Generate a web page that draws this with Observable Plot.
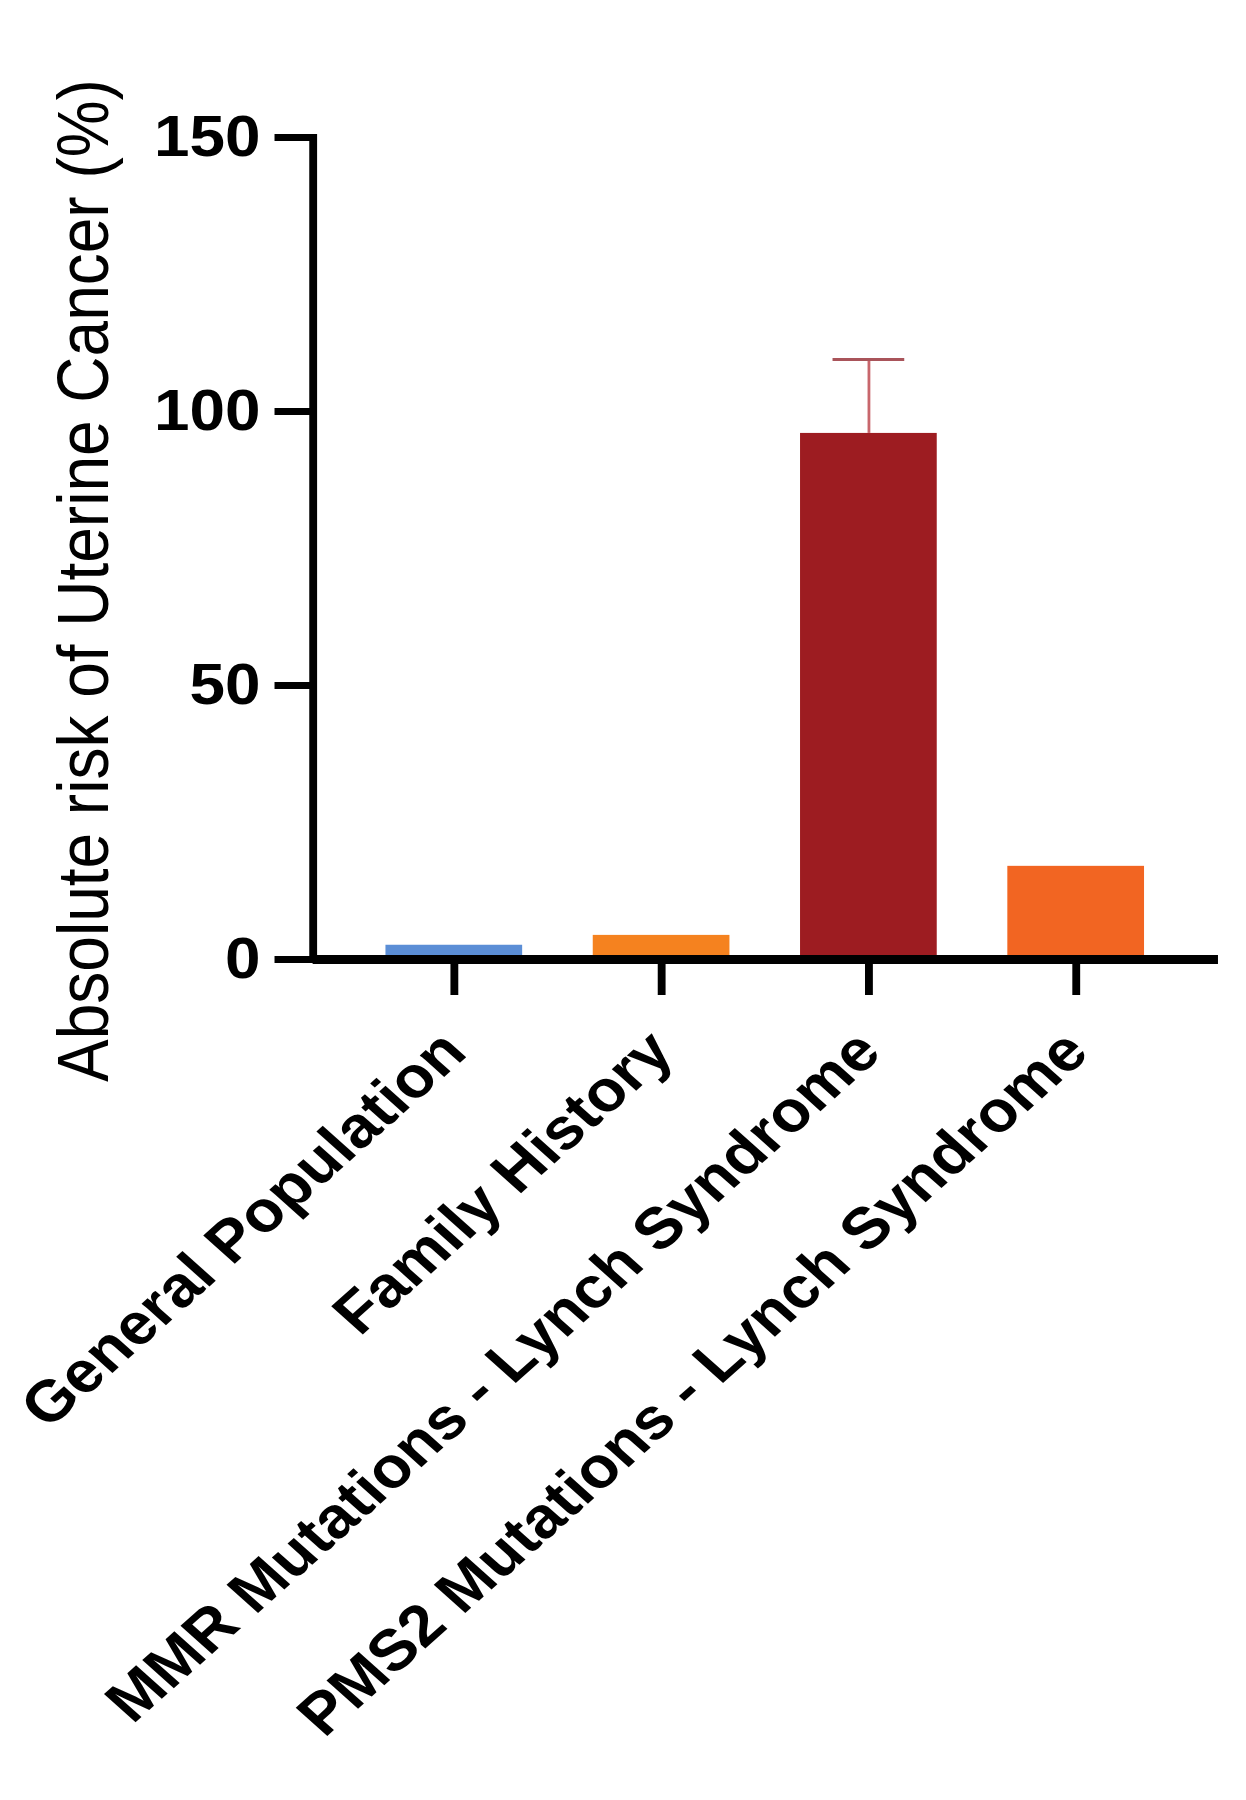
<!DOCTYPE html>
<html>
<head>
<meta charset="utf-8">
<script src="https://cdn.jsdelivr.net/npm/d3@7"></script>
<script src="https://cdn.jsdelivr.net/npm/@observablehq/plot@0.6"></script>
<style>
  body { margin: 0; background: #fff; }
  /* the figure is drawn slightly wide, like the original export */
  #chart svg { display: block; transform: scaleX(1.1205); transform-origin: 0 0; }
</style>
</head>
<body>
<div id="chart"></div>
<script>
// Absolute risk of uterine cancer by group (%)
const groups = [
  "General Population",
  "Family History",
  "MMR Mutations - Lynch Syndrome",
  "PMS2 Mutations - Lynch Syndrome"
];
const risk = [2.6, 4.4, 96, 17];
const errorUpper = [null, null, 109.5, null];
const barColors = ["#5b8ed6", "#f5821f", "#9d1c21", "#f26522"];
const yTicks = [0, 50, 100, 150];
const yTitle = "Absolute risk of Uterine Cancer (%)";

const rows = groups.map((g, i) => ({group: g, risk: risk[i], upper: errorUpper[i]}));
const errRows = rows.filter(d => d.upper != null);

const chart = Plot.plot({
  width: 1112,
  height: 1800,
  marginLeft: 279,
  marginRight: 25,
  marginTop: 137,
  marginBottom: 841,
  style: {fontFamily: "'Liberation Sans', Arial, sans-serif", color: "#000", background: "#fff"},
  x: {domain: groups, paddingInner: 0.34, paddingOuter: 0.35, align: 0.5, label: null},
  y: {domain: [0, 150], label: null},
  color: {domain: groups, range: barColors},
  marks: [
    Plot.barY(rows, {x: "group", y: "risk", fill: "group"}),
    // upper error bar on the MMR bar
    Plot.ruleX(errRows, {x: "group", y1: "risk", y2: "upper", stroke: "#c8666c", strokeWidth: 2.5}),
    Plot.tickY(errRows, {x: "group", y: "upper", stroke: "#a9545a", strokeWidth: 3, insetLeft: 29, insetRight: 29}),
    // axis lines
    Plot.ruleY([0], {strokeWidth: 9}),
    Plot.frame({anchor: "left", strokeWidth: 7}),
    Plot.axisY({ticks: yTicks, tickSize: 34, tickPadding: 13, strokeWidth: 7,
      fontSize: 57, fontWeight: "bold", label: null}),
    Plot.axisX({tickSize: 36, tickPadding: 46, strokeWidth: 7, tickRotate: -45,
      fontSize: 58, fontWeight: "bold", label: null}),
    Plot.text([yTitle], {frameAnchor: "left", rotate: -90, dx: -183, dy: 32,
      fontSize: 64, textAnchor: "middle", lineAnchor: "bottom"})
  ]
});

document.getElementById("chart").append(chart);
</script>
</body>
</html>
